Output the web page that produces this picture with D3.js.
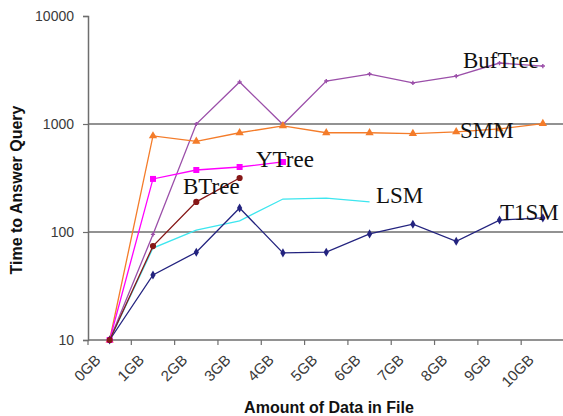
<!DOCTYPE html>
<html>
<head>
<meta charset="utf-8">
<script src="https://d3js.org/d3.v7.min.js"></script>
<style>
  body { margin: 0; background: #fff; }
  svg { display: block; }
</style>
</head>
<body>
<div id="chart"></div>
<script>
// categories on the x axis
var categories = ["0GB", "1GB", "2GB", "3GB", "4GB", "5GB", "6GB", "7GB", "8GB", "9GB", "10GB"];
var yTicks = [10, 100, 1000, 10000];

// series values (time to answer query)
var bufTree = [10, 95, 1000, 2450, 990, 2500, 2900, 2400, 2780, 3670, 3440];
var smm     = [10, 775, 690, 830, 960, 830, 830, 815, 845, 900, 1010];
var yTree   = [10, 310, 375, 400, 445];
var bTree   = [10, 74, 190, 316];
var lsm     = [10, 71, 104, 127, 202, 206, 190];
var t1sm    = [10, 40, 65, 167, 64, 65, 96, 118, 82, 129, 135];

var W = 563, H = 416;
// plot area edges (note: "top" is a reserved window property, so use other names)
var plotLeft = 88, plotRight = 564.5, plotTop = 16, plotBottom = 340;

var svg = d3.select("#chart").append("svg")
    .attr("width", W)
    .attr("height", H);

var x = d3.scaleBand()
    .domain(categories)
    .range([plotLeft, plotRight])
    .padding(0);

var y = d3.scaleLog()
    .domain([10, 10000])
    .range([plotBottom, plotTop]);

function cx(i) { return x(categories[i]) + x.bandwidth() / 2; }

// gridlines (100, 1000)
svg.append("g")
  .selectAll("line")
  .data([100, 1000])
  .enter().append("line")
    .attr("x1", plotLeft).attr("x2", W)
    .attr("y1", function(d) { return y(d); })
    .attr("y2", function(d) { return y(d); })
    .attr("stroke", "#6e6e6e")
    .attr("stroke-width", 1.5);

// y axis
var yAxis = svg.append("g")
    .attr("transform", "translate(" + plotLeft + ",0)")
    .call(d3.axisLeft(y).tickValues(yTicks).tickFormat(d3.format("d")).tickSize(5).tickPadding(9));
yAxis.select(".domain").attr("stroke", "#6e6e6e").attr("stroke-width", 1.5);
yAxis.selectAll(".tick line").attr("stroke", "#6e6e6e").attr("stroke-width", 1.2);
yAxis.selectAll(".tick text")
    .attr("font-family", "Liberation Sans, Arial, sans-serif")
    .attr("font-size", 14)
    .attr("fill", "#3a3a3a");

// x axis line
svg.append("line")
    .attr("x1", plotLeft).attr("x2", W)
    .attr("y1", plotBottom).attr("y2", plotBottom)
    .attr("stroke", "#6e6e6e")
    .attr("stroke-width", 1.5);

// x tick marks between categories
var bounds = categories.map(function(c) { return x(c); }).concat([x(categories[categories.length - 1]) + x.bandwidth()]);
svg.append("g")
  .selectAll("line")
  .data(bounds)
  .enter().append("line")
    .attr("x1", function(d) { return d; })
    .attr("x2", function(d) { return d; })
    .attr("y1", plotBottom).attr("y2", plotBottom + 5)
    .attr("stroke", "#6e6e6e")
    .attr("stroke-width", 1.2);

// x tick labels, rotated
svg.append("g")
  .selectAll("text")
  .data(categories)
  .enter().append("text")
    .attr("transform", function(d, i) { return "translate(" + (cx(i) - 8) + "," + (plotBottom + 21) + ") rotate(-45)"; })
    .attr("text-anchor", "end")
    .attr("font-family", "Liberation Sans, Arial, sans-serif")
    .attr("font-size", 15)
    .attr("fill", "#3a3a3a")
    .text(function(d) { return d; });

// axis titles
svg.append("text")
    .attr("x", 329).attr("y", 413)
    .attr("text-anchor", "middle")
    .attr("font-family", "Liberation Sans, Arial, sans-serif")
    .attr("font-weight", "bold")
    .attr("font-size", 16)
    .attr("fill", "#111")
    .text("Amount of Data in File");

svg.append("text")
    .attr("transform", "translate(22,190) rotate(-90)")
    .attr("text-anchor", "middle")
    .attr("font-family", "Liberation Sans, Arial, sans-serif")
    .attr("font-weight", "bold")
    .attr("font-size", 16)
    .attr("fill", "#111")
    .text("Time to Answer Query");

var line = d3.line()
    .x(function(d, i) { return cx(i); })
    .y(function(d) { return y(d); });

var series = [
  { name: "BufTree", values: bufTree, color: "#9b4fa9", marker: "plus" },
  { name: "SMM",     values: smm,     color: "#f47c2a", marker: "triangle" },
  { name: "YTree",   values: yTree,   color: "#ff00ff", marker: "square" },
  { name: "LSM",     values: lsm,     color: "#3de6ef", marker: "none" },
  { name: "T1SM",    values: t1sm,    color: "#23237f", marker: "diamond" },
  { name: "BTree",   values: bTree,   color: "#861717", marker: "circle" }
];

var symbols = {
  triangle: d3.symbol().type(d3.symbolTriangle).size(30),
  square: d3.symbol().type(d3.symbolSquare).size(36),
  diamond: d3.symbol().type(d3.symbolDiamond).size(24),
  circle: d3.symbol().type(d3.symbolCircle).size(30),
  plus: d3.symbol().type(d3.symbolCross).size(10)
};

series.forEach(function(s) {
  var g = svg.append("g");
  g.append("path")
      .datum(s.values)
      .attr("fill", "none")
      .attr("stroke", s.color)
      .attr("stroke-width", 1.3)
      .attr("d", line);
  if (s.marker !== "none") {
    g.selectAll("path.m")
      .data(s.values)
      .enter().append("path")
        .attr("class", "m")
        .attr("transform", function(d, i) { return "translate(" + cx(i) + "," + y(d) + ")"; })
        .attr("d", symbols[s.marker])
        .attr("fill", s.color);
  }
});

// series labels drawn on the chart
var labels = [
  { text: "BufTree", x: 463, y: 68 },
  { text: "SMM",     x: 460, y: 138 },
  { text: "YTree",   x: 256, y: 167 },
  { text: "BTree",   x: 183, y: 194 },
  { text: "LSM",     x: 376, y: 203 },
  { text: "T1SM",    x: 500, y: 220 }
];

svg.append("g")
  .selectAll("text")
  .data(labels)
  .enter().append("text")
    .attr("x", function(d) { return d.x; })
    .attr("y", function(d) { return d.y; })
    .attr("font-family", "Liberation Serif, Times New Roman, serif")
    .attr("font-size", 23)
    .attr("fill", "#111")
    .text(function(d) { return d.text; });
</script>
</body>
</html>
